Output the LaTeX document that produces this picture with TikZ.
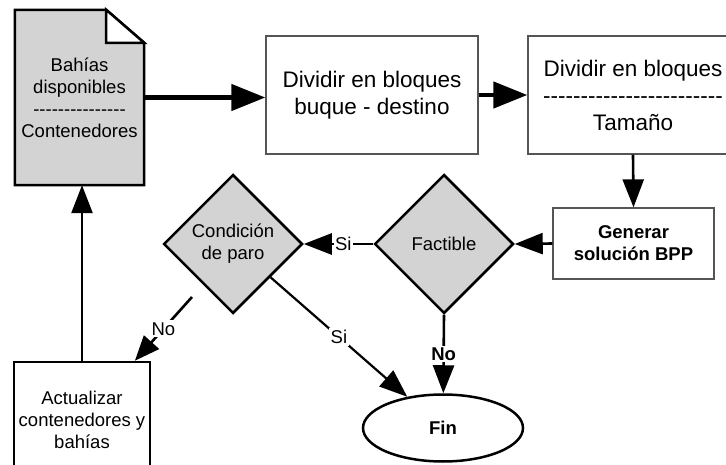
\documentclass[tikz,border=0pt]{standalone}
\usepackage{fontspec}
\setmainfont{Liberation Sans}
\usetikzlibrary{shapes.geometric,arrows.meta,calc,backgrounds}
\definecolor{boxgray}{RGB}{211,211,211}
\definecolor{edgegray}{RGB}{85,85,85}
% a hyphen that never joins its neighbour into a dash ligature
\newcommand\hy{-\kern0pt}
\newcommand\hyrow[1]{\foreach\k in {1,...,#1}{\hy}}
\begin{document}
\begin{tikzpicture}[x=1pt,y=-1pt,
  txt/.style={font=\fontsize{18.5}{22}\selectfont, align=center, inner sep=0pt},
  bigtxt/.style={font=\fontsize{22.5}{27}\selectfont, align=center, inner sep=0pt},
  plainbox/.style={rectangle, draw=edgegray, line width=1.3pt},
  heavybox/.style={rectangle, draw=black, line width=2.5pt},
  decision/.style={diamond, draw, line width=2.5pt, fill=boxgray,
    minimum width=139pt, minimum height=139pt, inner sep=0pt, txt},
  flow/.style={line width=2.6pt, -{Triangle[length=28pt,width=21pt]}},
  heavyflow/.style={line width=4.5pt, -{Triangle[length=34pt,width=26pt]}},
  lbl/.style={fill=white, inner sep=2pt, font=\fontsize{18.5}{22}\selectfont}
]
\useasboundingbox (0,0) rectangle (726,465);

% document-shaped input
\node[txt, minimum width=129pt, minimum height=175pt] (doc) at (79.5,97.5)
  {Bahías\\disponibles\\\hyrow{15}\\Contenedores};
\begin{scope}[on background layer]
  \draw[line width=2.5pt, fill=boxgray, line join=miter]
    (doc.north west) -- ($(doc.north east)+(-38,0)$) -- ($(doc.north east)+(0,33)$)
    -- (doc.south east) -- (doc.south west) -- cycle;
  \draw[line width=2.5pt, fill=white, line join=miter]
    ($(doc.north east)+(-38,0)$) -- ($(doc.north east)+(-38,33)$)
    -- ($(doc.north east)+(0,33)$) -- cycle;
\end{scope}

% process boxes
\node[plainbox, bigtxt, minimum width=212pt, minimum height=118pt] (mid) at (372,95)
  {Dividir en bloques\\buque - destino};
\node[plainbox, bigtxt, minimum width=210pt, minimum height=118pt] (rgt) at (633,95)
  {Dividir en bloques\\\hyrow{24}\\Tamaño};
\node[plainbox, txt, font=\fontsize{18.5}{22}\selectfont\bfseries,
  minimum width=161pt, minimum height=71pt] (gen) at (633.5,243.5)
  {Generar\\solución BPP};

% decisions
\node[decision] (fact) at (444,244) {Factible};
\node[decision] (cond) at (233,244) {Condición\\de paro};

% update box and terminal
\node[heavybox, txt, minimum width=136pt, minimum height=116pt] (act) at (82,420)
  {Actualizar\\contenedores y\\bahías};
\node[ellipse, draw, line width=2.5pt, minimum width=160pt, minimum height=67pt,
  inner sep=0pt, font=\fontsize{18.5}{22}\selectfont\bfseries] (fin) at (443,428) {Fin};

% connectors
\draw[heavyflow] (doc.east) -- (doc.east -| mid.west);
\draw[heavyflow] (mid.east) -- (rgt.west);
\draw[flow] (rgt.south) -- (gen.north);
\draw[flow] (gen.west) -- (fact.east);
\draw[flow] (fact.west) -- node[lbl, pos=0.43, inner sep=1pt]{Si} (cond.east);
\draw[flow] (fact.south) -- node[lbl, font=\fontsize{18.5}{22}\selectfont\bfseries]{No} (fin);
\draw[flow, line width=2.2pt] ($(cond.east)!0.47!(cond.south)$) -- node[lbl]{Si} (fin);
\coordinate (nostart) at (192,297);
\draw[flow, -{Triangle[length=25pt,width=20pt]}] (nostart) -- node[lbl]{No} (act);
\draw[flow] (act.north) -- (act.north |- doc.south);
\end{tikzpicture}
\end{document}
